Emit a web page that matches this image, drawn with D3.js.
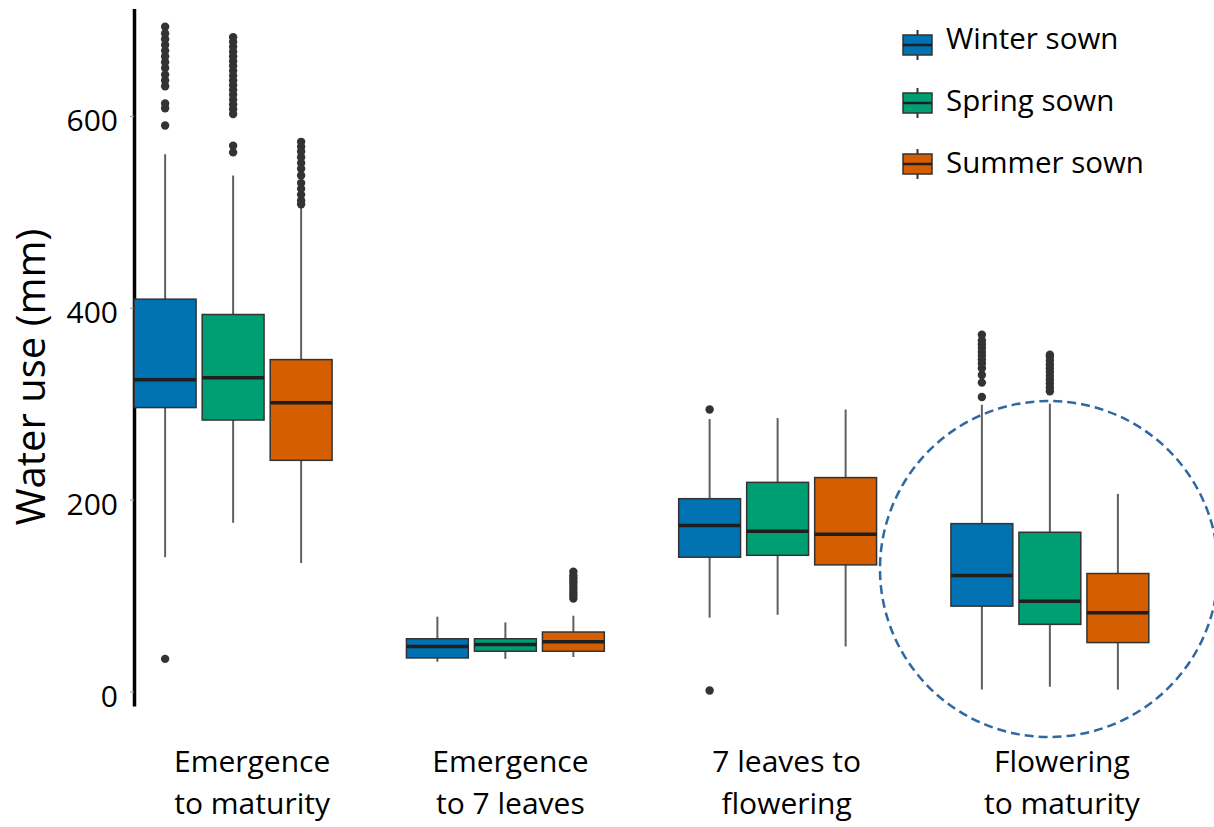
<!DOCTYPE html>
<html>
<head>
<meta charset="utf-8">
<script src="https://cdn.jsdelivr.net/npm/d3@7"></script>
<style>
  html, body { margin: 0; padding: 0; background: #fff; }
  svg { display: block; font-family: "Open Sans", sans-serif; }
</style>
</head>
<body>
<svg id="chart" width="1214" height="827"></svg>
<script>
// Crop stages on the x axis (two-line labels)
const stages = [
  ["Emergence", "to maturity"],
  ["Emergence", "to 7 leaves"],
  ["7 leaves to", "flowering"],
  ["Flowering", "to maturity"]
];
const seasons = ["Winter sown", "Spring sown", "Summer sown"];
const seasonColors = ["#0072B2", "#009E73", "#D55E00"];

// Box statistics per stage: [lower whisker, Q1, median, Q3, upper whisker] (mm)
const winterStats = [[140, 296, 325, 409, 560], [31, 35, 47, 55, 78], [77, 140, 173, 201, 284], [2, 89, 121, 175, 299]];
const springStats = [[176, 283, 327, 393, 538], [34, 42, 49, 55, 72], [80, 142, 167, 218, 285], [5, 70, 94, 166, 300]];
const summerStats = [[134, 241, 301, 346, 505], [36, 42, 52, 62, 79], [47, 132, 164, 223, 294], [2, 51, 82, 123, 206]];

// Outlying points per stage (mm)
const winterOutliers = [
  [34, 590, 608, 613, 631, 637, 643, 650, 656, 662, 668, 674, 680, 686, 693],
  [],
  [1, 294],
  [307, 322, 330, 337, 342, 346, 350, 354, 358, 362, 366, 372]
];
const springOutliers = [
  [562, 569, 602, 607, 612, 617, 622, 627, 632, 637, 642, 647, 652, 657, 662, 667, 672, 677, 682],
  [],
  [],
  [313, 317, 321, 325, 329, 333, 337, 341, 345, 349, 351]
];
const summerOutliers = [
  [508, 512, 518, 524, 530, 538, 545, 551, 557, 563, 568, 573],
  [97, 100, 103, 106, 109, 112, 115, 118, 121, 125],
  [],
  []
];

const yTicks = [0, 200, 400, 600];

const statsBySeason = [winterStats, springStats, summerStats];
const outliersBySeason = [winterOutliers, springOutliers, summerOutliers];

const svg = d3.select("#chart");

const x0 = d3.scaleBand().domain(d3.range(stages.length)).range([97, 1186]).padding(0);
const x1 = d3.scaleBand().domain(d3.range(seasons.length)).range([-102, 102]).padding(0);
const boxW = x1.bandwidth() * 0.91;
const y = d3.scaleLinear().domain([-15, 712]).range([705.9, 8.5]);

// Y axis
const yAxis = svg.append("g").attr("transform", "translate(134,0)")
  .call(d3.axisLeft(y).tickValues(yTicks).tickSizeInner(4).tickSizeOuter(0).tickPadding(12).tickFormat(d3.format("d")));
yAxis.select(".domain").attr("stroke", "#000").attr("stroke-width", 3.5);
yAxis.selectAll(".tick line").attr("stroke", "#999").attr("stroke-width", 1);
yAxis.selectAll(".tick text")
  .attr("font-family", "Open Sans, sans-serif")
  .attr("font-size", 30)
  .attr("fill", "#000")
  .attr("dy", "0.5em");

// Y axis title
svg.append("text")
  .attr("transform", "translate(45,377) rotate(-90)")
  .attr("text-anchor", "middle")
  .attr("font-size", 40)
  .attr("fill", "#000")
  .text("Water use (mm)");

// Boxplots
const plot = svg.append("g");
stages.forEach((stage, si) => {
  const g = plot.append("g").attr("transform", `translate(${x0(si) + x0.bandwidth() / 2},0)`);
  seasons.forEach((season, k) => {
    const [lo, q1, med, q3, hi] = statsBySeason[k][si];
    const cx = x1(k) + x1.bandwidth() / 2;
    // whisker
    g.append("line")
      .attr("x1", cx).attr("x2", cx)
      .attr("y1", y(lo)).attr("y2", y(hi))
      .attr("stroke", "#5f5f5f").attr("stroke-width", 2);
    // box
    g.append("rect")
      .attr("x", cx - boxW / 2).attr("width", boxW)
      .attr("y", y(q3)).attr("height", y(q1) - y(q3))
      .attr("fill", seasonColors[k])
      .attr("stroke", "#333").attr("stroke-width", 1.5);
    // median
    g.append("line")
      .attr("x1", cx - boxW / 2).attr("x2", cx + boxW / 2)
      .attr("y1", y(med)).attr("y2", y(med))
      .attr("stroke", "#1f1f1f").attr("stroke-width", 3.5);
    // outliers
    g.selectAll(null).data(outliersBySeason[k][si]).join("circle")
      .attr("cx", cx).attr("cy", d => y(d)).attr("r", 4.2)
      .attr("fill", "#333");
  });
});

// X category labels, nudged right of each group's centre
const labelNudge = [19, 5, 9, 12];
const xl = svg.append("g");
stages.forEach((lines, si) => {
  const lx = x0(si) + x0.bandwidth() / 2 + labelNudge[si];
  const t = xl.append("text")
    .attr("text-anchor", "middle")
    .attr("font-size", 30)
    .attr("fill", "#000");
  lines.forEach((ln, i) => {
    t.append("tspan").attr("x", lx).attr("y", 772 + i * 42).text(ln);
  });
});

// Dashed highlight around the last stage
svg.append("ellipse")
  .attr("cx", 1049).attr("cy", 569).attr("rx", 169).attr("ry", 168)
  .attr("fill", "none")
  .attr("stroke", "#2f67a1").attr("stroke-width", 2.5)
  .attr("stroke-dasharray", "9 5");

// Legend: mini boxplot keys and labels
const legendIconY = [45, 103, 164];
const legendTextY = [49, 111, 173];
const legend = svg.append("g");
seasons.forEach((s, k) => {
  const cy = legendIconY[k];
  const cx = 917.5;
  legend.append("line").attr("x1", cx).attr("x2", cx).attr("y1", cy - 15).attr("y2", cy + 15)
    .attr("stroke", "#333").attr("stroke-width", 2);
  legend.append("rect").attr("x", cx - 14.5).attr("y", cy - 10).attr("width", 29).attr("height", 20)
    .attr("fill", seasonColors[k]).attr("stroke", "#333").attr("stroke-width", 1.5);
  legend.append("line").attr("x1", cx - 14.5).attr("x2", cx + 14.5).attr("y1", cy).attr("y2", cy)
    .attr("stroke", "#1f1f1f").attr("stroke-width", 2.5);
  legend.append("text").attr("x", 946).attr("y", legendTextY[k])
    .attr("font-size", 29.5).attr("fill", "#000").text(s);
});
</script>
</body>
</html>
